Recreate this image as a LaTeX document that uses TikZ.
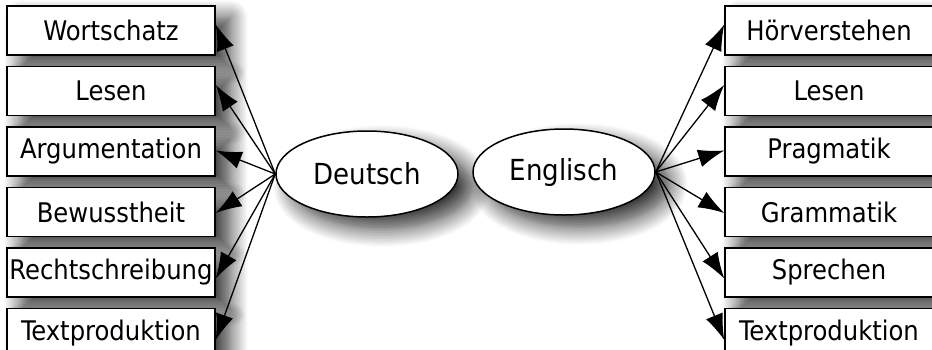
\documentclass[tikz,border=0pt]{standalone}
\usepackage{fontspec}
\setmainfont{DejaVu Sans Condensed}
\usepackage{tikz}
\usetikzlibrary{positioning,arrows.meta,shapes.geometric,shadows.blur}

\begin{document}
\begin{tikzpicture}[
  x=1pt, y=-1pt,
  node distance=10pt,
  % one soft shadow, down and to the right, shared by boxes and ellipses
  soft/.style={blur shadow={shadow xshift=15pt, shadow yshift=-12pt,
               shadow blur radius=18pt, shadow blur steps=12, shadow opacity=80}},
  box/.style={draw, line width=1.5pt, fill=white, soft,
              minimum width=208pt, minimum height=49pt, inner sep=0pt,
              font=\fontsize{27}{30}\selectfont},
  lang/.style={ellipse, draw, line width=1.5pt, fill=white, soft,
               minimum width=182pt, minimum height=86pt, inner sep=0pt,
               font=\fontsize{29}{32}\selectfont},
  arr/.style={line width=1.3pt, -{Latex[length=26pt,width=18pt]}}
]
\useasboundingbox (0,0) rectangle (932,349);

% left column
\node[box] (dwort) at (111,30.5) {Wortschatz};
\node[box, below=of dwort] (dlesen) {Lesen};
\node[box, below=of dlesen] (darg) {Argumentation};
\node[box, below=of darg] (dbew) {Bewusstheit};
\node[box, below=of dbew] (drecht) {Rechtschreibung};
\node[box, below=of drecht] (dtext) {Textproduktion};

% right column
\node[box] (ehoer) at (829,30.5) {Hörverstehen};
\node[box, below=of ehoer] (elesen) {Lesen};
\node[box, below=of elesen] (eprag) {Pragmatik};
\node[box, below=of eprag] (egram) {Grammatik};
\node[box, below=of egram] (esprech) {Sprechen};
\node[box, below=of esprech] (etext) {Textproduktion};

% the two languages
\node[lang] (deutsch) at (367,174) {Deutsch};
\node[lang] (englisch) at (564,172) {Englisch};

\foreach \b/\s in {dwort/6, dlesen/6, darg/1, dbew/-1, drecht/-6, dtext/-7}
  \draw[arr] (deutsch.west) -- ([yshift=\s pt]\b.east);
\foreach \b/\s in {ehoer/6, elesen/6, eprag/1, egram/-1, esprech/-6, etext/-7}
  \draw[arr] (englisch.east) -- ([yshift=\s pt]\b.west);
\end{tikzpicture}
\end{document}
